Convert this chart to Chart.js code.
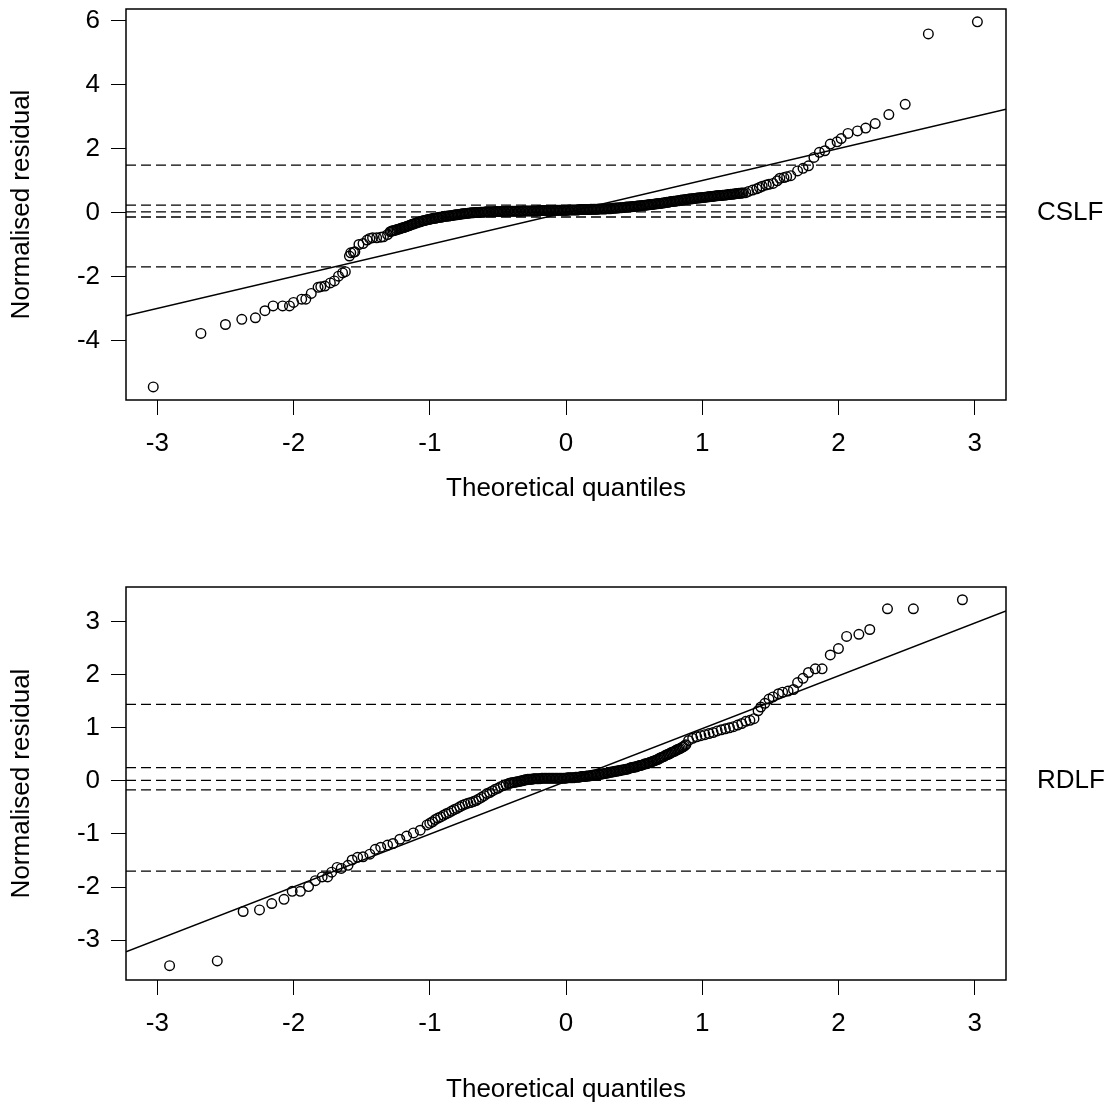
<!DOCTYPE html>
<html>
<head>
<meta charset="utf-8">
<script src="https://cdn.jsdelivr.net/npm/chart.js@4.4.0/dist/chart.umd.min.js"></script>
<style>
  html, body { margin: 0; padding: 0; background: #fff; }
  .panel { position: absolute; left: 0; width: 1119px; }
</style>
</head>
<body>
<div class="panel" style="top:0;height:556px"><canvas id="cslfChart"></canvas></div>
<div class="panel" style="top:556px;height:557px"><canvas id="rdlfChart"></canvas></div>
<script>
// shared x axis (theoretical quantiles)
const xTicks = [-3, -2, -1, 0, 1, 2, 3];
const xRange = [-3.23, 3.23];

// CSLF panel
const cslfYTicks = [-4, -2, 0, 2, 4, 6];
const cslfYRange = [-5.85, 6.37];
const cslfFit = [0.01, 1.0]; // intercept, slope
const cslfCutoffs = [1.49, 0.24, 0.03, -0.13, -1.69];
const cslfX = [
  -3.03, -2.68, -2.50, -2.38, -2.28, -2.21, -2.15, -2.08, -2.03, -2.00,
  -1.94, -1.91, -1.87, -1.82, -1.80, -1.77, -1.73, -1.70, -1.67, -1.64,
  -1.62, -1.59, -1.58, -1.56, -1.55, -1.52, -1.49, -1.46, -1.44, -1.42,
  -1.39, -1.36, -1.34, -1.31, -1.29, -1.28,
  -1.27, -1.26, -1.25, -1.24, -1.23, -1.22, -1.21, -1.20, -1.19, -1.18,
  -1.17, -1.16, -1.15, -1.14, -1.13, -1.12, -1.11, -1.10, -1.09, -1.08,
  -1.07, -1.06, -1.05, -1.04, -1.03, -1.02, -1.01, -1.00, -0.99, -0.98,
  -0.97, -0.96, -0.95, -0.94, -0.93, -0.92, -0.91, -0.90, -0.89, -0.88,
  -0.87, -0.86, -0.85, -0.84, -0.83, -0.82, -0.81, -0.80, -0.79, -0.78,
  -0.77, -0.76, -0.75, -0.74, -0.73,
  -0.72, -0.71, -0.70, -0.69, -0.68, -0.67, -0.66, -0.65, -0.64, -0.63,
  -0.62, -0.61, -0.60, -0.59, -0.58, -0.57, -0.56, -0.55, -0.54, -0.53,
  -0.52, -0.51, -0.50, -0.49, -0.48, -0.47, -0.46, -0.45, -0.44, -0.43,
  -0.42, -0.41, -0.40, -0.39, -0.38, -0.37, -0.36, -0.35, -0.34, -0.33,
  -0.32, -0.31, -0.30, -0.29, -0.28, -0.27, -0.26, -0.25, -0.24, -0.23,
  -0.22, -0.21, -0.20, -0.19, -0.18, -0.17, -0.16, -0.15, -0.14, -0.13,
  -0.12, -0.11, -0.10, -0.09, -0.08, -0.07, -0.06, -0.05, -0.04, -0.03,
  -0.02, -0.01, 0.00, 0.01, 0.02, 0.03, 0.04, 0.05, 0.06, 0.07,
  0.08, 0.09, 0.10, 0.11, 0.12, 0.13, 0.14, 0.15, 0.16, 0.17,
  0.18, 0.19, 0.20, 0.21, 0.22, 0.23, 0.24, 0.25, 0.26, 0.27,
  0.28, 0.29, 0.30, 0.31, 0.32, 0.33, 0.34, 0.35, 0.36, 0.37,
  0.38, 0.39, 0.40, 0.41, 0.42, 0.43, 0.44, 0.45, 0.46, 0.47,
  0.48, 0.49, 0.50, 0.51, 0.52, 0.53, 0.54, 0.55, 0.56, 0.57,
  0.58, 0.59, 0.60, 0.61, 0.62, 0.63, 0.64, 0.65, 0.66, 0.67,
  0.68, 0.69, 0.70, 0.71, 0.72, 0.73, 0.74, 0.75, 0.76, 0.77,
  0.78, 0.79, 0.80, 0.81, 0.82, 0.83, 0.84, 0.85, 0.86, 0.87,
  0.88, 0.89, 0.90,
  0.91, 0.92, 0.93, 0.94, 0.95, 0.96, 0.97, 0.98, 0.99, 1.00,
  1.01, 1.02, 1.03, 1.04, 1.05, 1.06, 1.07, 1.08, 1.09, 1.10,
  1.11, 1.12, 1.13, 1.14, 1.15, 1.16, 1.17, 1.18, 1.19, 1.20,
  1.21, 1.22, 1.23, 1.24, 1.25, 1.26, 1.27, 1.28, 1.29, 1.30,
  1.32, 1.34, 1.37, 1.40, 1.42, 1.44, 1.47, 1.49, 1.52, 1.55,
  1.57, 1.60, 1.62, 1.65, 1.70, 1.74, 1.78, 1.82, 1.86, 1.90,
  1.94, 1.99, 2.02, 2.07, 2.14, 2.20, 2.27, 2.37, 2.49, 2.66,
  3.02
];
const cslfY = [
  -5.44, -3.77, -3.49, -3.33, -3.28, -3.06, -2.91, -2.91, -2.91, -2.80,
  -2.70, -2.70, -2.52, -2.33, -2.31, -2.29, -2.19, -2.13, -1.98, -1.88,
  -1.84, -1.35, -1.25, -1.23, -1.22, -0.99, -0.96, -0.85, -0.80, -0.78,
  -0.78, -0.76, -0.75, -0.68, -0.59, -0.57,
  -0.56, -0.55, -0.54, -0.52, -0.51, -0.50, -0.48, -0.47, -0.46, -0.44,
  -0.43, -0.41, -0.40, -0.38, -0.36, -0.35, -0.33, -0.32, -0.30, -0.29,
  -0.28, -0.26, -0.25, -0.24, -0.23, -0.22, -0.21, -0.20, -0.19, -0.18,
  -0.17, -0.17, -0.16, -0.15, -0.14, -0.14, -0.13, -0.12, -0.11, -0.11,
  -0.10, -0.10, -0.09, -0.08, -0.08, -0.07, -0.06, -0.06, -0.05, -0.05,
  -0.04, -0.03, -0.03, -0.02, -0.02,
  -0.01, -0.01, 0.00, 0.00, 0.00, 0.01, 0.01, 0.01, 0.01, 0.02,
  0.02, 0.02, 0.02, 0.03, 0.03, 0.03, 0.03, 0.03, 0.03, 0.03,
  0.04, 0.04, 0.04, 0.04, 0.04, 0.04, 0.04, 0.04, 0.05, 0.05,
  0.05, 0.05, 0.05, 0.05, 0.05, 0.05, 0.05, 0.05, 0.05, 0.05,
  0.06, 0.06, 0.06, 0.06, 0.06, 0.06, 0.06, 0.06, 0.06, 0.06,
  0.06, 0.06, 0.07, 0.07, 0.07, 0.07, 0.07, 0.07, 0.07, 0.07,
  0.07, 0.07, 0.07, 0.07, 0.08, 0.08, 0.08, 0.08, 0.08, 0.08,
  0.08, 0.08, 0.08, 0.08, 0.09, 0.09, 0.09, 0.09, 0.09, 0.09,
  0.09, 0.09, 0.10, 0.10, 0.10, 0.10, 0.10, 0.10, 0.10, 0.10,
  0.11, 0.11, 0.11, 0.11, 0.11, 0.11, 0.12, 0.12, 0.12, 0.12,
  0.12, 0.12, 0.13, 0.13, 0.13, 0.13, 0.14, 0.14, 0.15, 0.15,
  0.15, 0.16, 0.16, 0.16, 0.17, 0.17, 0.18, 0.18, 0.18, 0.19,
  0.19, 0.20, 0.20, 0.20, 0.21, 0.21, 0.22, 0.22, 0.23, 0.23,
  0.24, 0.24, 0.25, 0.25, 0.26, 0.26, 0.27, 0.27, 0.28, 0.28,
  0.29, 0.29, 0.30, 0.31, 0.31, 0.32, 0.33, 0.33, 0.34, 0.35,
  0.35, 0.36, 0.36, 0.37, 0.38, 0.38, 0.39, 0.40, 0.40, 0.41,
  0.42, 0.42, 0.43,
  0.43, 0.44, 0.44, 0.45, 0.45, 0.46, 0.46, 0.47, 0.47, 0.48,
  0.48, 0.49, 0.49, 0.50, 0.50, 0.51, 0.51, 0.52, 0.52, 0.53,
  0.53, 0.54, 0.54, 0.54, 0.55, 0.55, 0.56, 0.56, 0.57, 0.57,
  0.58, 0.58, 0.59, 0.59, 0.60, 0.60, 0.61, 0.61, 0.62, 0.62,
  0.63, 0.67, 0.71, 0.75, 0.79, 0.83, 0.87, 0.89, 0.92, 1.00,
  1.08, 1.10, 1.13, 1.16, 1.31, 1.39, 1.47, 1.73, 1.89, 1.94,
  2.15, 2.22, 2.32, 2.48, 2.56, 2.65, 2.79, 3.07, 3.39, 5.59,
  5.97
];

// RDLF panel
const rdlfYTicks = [-3, -2, -1, 0, 1, 2, 3];
const rdlfYRange = [-3.75, 3.65];
const rdlfFit = [-0.01, 0.994];
const rdlfCutoffs = [1.44, 0.25, 0.01, -0.17, -1.70];
const rdlfX = [
  -2.91, -2.56, -2.37, -2.25, -2.16, -2.07, -2.01, -1.95, -1.89, -1.84,
  -1.79, -1.75, -1.72, -1.68, -1.65, -1.60, -1.57, -1.53, -1.49, -1.44,
  -1.40, -1.36, -1.31, -1.27, -1.22, -1.17, -1.12, -1.07, -1.02,
  -1.00, -0.98, -0.96, -0.94, -0.92, -0.90, -0.88, -0.86, -0.84, -0.82,
  -0.80, -0.78, -0.76, -0.74, -0.72, -0.70, -0.68, -0.66, -0.64, -0.62,
  -0.60, -0.58, -0.56, -0.54, -0.52, -0.50, -0.48, -0.46, -0.44, -0.42,
  -0.41, -0.40, -0.39, -0.38, -0.37, -0.36, -0.35, -0.34, -0.33, -0.32,
  -0.31, -0.30, -0.29, -0.28, -0.27, -0.26, -0.25, -0.24, -0.23, -0.22,
  -0.21, -0.20, -0.19, -0.18, -0.17, -0.16, -0.15, -0.14, -0.13, -0.12,
  -0.11, -0.10, -0.09, -0.08, -0.07, -0.06, -0.05, -0.04, -0.03, -0.02,
  -0.01, 0.00, 0.01, 0.02, 0.03, 0.04, 0.05, 0.06, 0.07, 0.08,
  0.09, 0.10, 0.11, 0.12, 0.13, 0.14, 0.15, 0.16, 0.17, 0.18,
  0.19, 0.20, 0.21, 0.22, 0.23, 0.24, 0.25, 0.26, 0.27, 0.28,
  0.29, 0.30, 0.31, 0.32, 0.33, 0.34, 0.35, 0.36, 0.37, 0.38,
  0.39, 0.40, 0.41, 0.42, 0.43, 0.44, 0.45, 0.46, 0.47, 0.48,
  0.49, 0.50,
  0.51, 0.52, 0.53, 0.54, 0.55, 0.56, 0.57, 0.58, 0.59, 0.60,
  0.61, 0.62, 0.63, 0.64, 0.65, 0.66, 0.67, 0.68, 0.69, 0.70,
  0.71, 0.72, 0.73, 0.74, 0.75, 0.76, 0.77, 0.78, 0.79, 0.80,
  0.81, 0.82, 0.83, 0.84, 0.85, 0.86, 0.87, 0.88,
  0.90, 0.93, 0.96, 0.99, 1.02, 1.05, 1.08, 1.11, 1.14, 1.17,
  1.20, 1.23, 1.26, 1.29, 1.32, 1.35, 1.38, 1.41, 1.43, 1.46,
  1.49, 1.52, 1.56, 1.59, 1.63, 1.67, 1.70, 1.74, 1.78, 1.83,
  1.88, 1.94, 2.00, 2.06, 2.15, 2.23, 2.36, 2.55, 2.91
];
const rdlfY = [
  -3.48, -3.39, -2.46, -2.43, -2.31, -2.23, -2.08, -2.08, -1.99, -1.88,
  -1.81, -1.81, -1.72, -1.63, -1.65, -1.59, -1.49, -1.44, -1.43, -1.38,
  -1.29, -1.25, -1.21, -1.18, -1.10, -1.04, -0.98, -0.93, -0.83,
  -0.80, -0.77, -0.73, -0.70, -0.68, -0.65, -0.62, -0.60, -0.57, -0.54,
  -0.52, -0.49, -0.46, -0.44, -0.42, -0.41, -0.39, -0.37, -0.34, -0.31,
  -0.28, -0.24, -0.22, -0.19, -0.16, -0.14, -0.11, -0.09, -0.07, -0.05,
  -0.04, -0.04, -0.03, -0.03, -0.02, -0.02, -0.01, -0.01, 0.00, 0.00,
  0.01, 0.02, 0.02, 0.03, 0.03, 0.03, 0.03, 0.04, 0.04, 0.04,
  0.04, 0.04, 0.04, 0.05, 0.05, 0.05, 0.05, 0.05, 0.05, 0.05,
  0.05, 0.05, 0.05, 0.05, 0.05, 0.05, 0.05, 0.05, 0.05, 0.05,
  0.05, 0.05, 0.06, 0.06, 0.06, 0.06, 0.06, 0.06, 0.07, 0.07,
  0.07, 0.07, 0.08, 0.08, 0.08, 0.08, 0.09, 0.09, 0.09, 0.10,
  0.10, 0.11, 0.11, 0.11, 0.12, 0.12, 0.12, 0.13, 0.13, 0.14,
  0.14, 0.15, 0.15, 0.16, 0.16, 0.17, 0.17, 0.18, 0.18, 0.19,
  0.19, 0.20, 0.20, 0.21, 0.21, 0.22, 0.22, 0.23, 0.24, 0.25,
  0.25, 0.26,
  0.26, 0.27, 0.28, 0.29, 0.29, 0.30, 0.31, 0.32, 0.32, 0.33,
  0.34, 0.35, 0.36, 0.37, 0.38, 0.39, 0.40, 0.41, 0.43, 0.44,
  0.45, 0.46, 0.48, 0.49, 0.50, 0.51, 0.53, 0.54, 0.55, 0.56,
  0.58, 0.59, 0.60, 0.61, 0.63, 0.64, 0.66, 0.68,
  0.76, 0.80, 0.83, 0.85, 0.87, 0.89, 0.91, 0.94, 0.96, 0.98,
  1.00, 1.02, 1.05, 1.08, 1.12, 1.14, 1.17, 1.32, 1.39, 1.46,
  1.54, 1.58, 1.64, 1.67, 1.69, 1.72, 1.85, 1.93, 2.04, 2.11,
  2.11, 2.37, 2.49, 2.72, 2.76, 2.85, 3.24, 3.24, 3.41
];

const FONT = "'Liberation Sans', Arial, Helvetica, sans-serif";
Chart.defaults.font.family = FONT;
Chart.defaults.color = "#000";

// box round the plot region + panel name at the right
const frame = {
  id: "frame",
  afterDraw(chart, args, opts) {
    const { ctx, chartArea: a, scales } = chart;
    ctx.save();
    ctx.strokeStyle = "#000";
    ctx.lineWidth = 1.5;
    ctx.strokeRect(a.left, a.top, a.right - a.left, a.bottom - a.top);
    ctx.font = "26px " + FONT;
    ctx.fillStyle = "#000";
    ctx.textAlign = "left";
    ctx.textBaseline = "middle";
    ctx.fillText(opts.text, a.right + 31, scales.y.getPixelForValue(0));
    ctx.restore();
  },
};

function qqChart(id, p) {
  const points = p.xs.map((x, i) => ({ x: x, y: p.ys[i] }));
  const datasets = [
    {
      data: points,
      pointStyle: "circle",
      pointRadius: 4.8,
      pointBorderWidth: 1.4,
      pointBorderColor: "#000",
      pointBackgroundColor: "rgba(0,0,0,0)",
    },
    {
      data: xRange.map((x) => ({ x: x, y: p.fit[0] + p.fit[1] * x })),
      showLine: true,
      borderColor: "#000",
      borderWidth: 1.5,
      pointRadius: 0,
    },
  ];
  p.cutoffs.forEach((c) => {
    datasets.push({
      data: xRange.map((x) => ({ x: x, y: c })),
      showLine: true,
      borderColor: "#000",
      borderWidth: 1.3,
      borderDash: [10, 5],
      pointRadius: 0,
    });
  });

  const H = p.height;
  return new Chart(document.getElementById(id), {
    type: "scatter",
    data: { datasets: datasets },
    plugins: [frame],
    options: {
      responsive: true,
      maintainAspectRatio: false,
      animation: false,
      events: [],
      layout: { padding: { top: p.plotTop, right: 113, left: 0, bottom: 0 } },
      plugins: {
        legend: { display: false },
        tooltip: { enabled: false },
        frame: { text: p.name },
      },
      scales: {
        x: {
          type: "linear",
          min: xRange[0],
          max: xRange[1],
          afterBuildTicks: (s) => { s.ticks = xTicks.map((v) => ({ value: v })); },
          afterFit: (s) => {
            s.height = H - p.plotBottom;
            s.paddingLeft = 0;
            s.paddingRight = 0;
          },
          border: { display: false },
          grid: { drawOnChartArea: false, drawTicks: true, tickLength: 15, color: "#000", lineWidth: 1 },
          ticks: { padding: 13, font: { size: 26 }, maxRotation: 0 },
          title: {
            display: true,
            text: "Theoretical quantiles",
            font: { size: 26 },
            padding: { top: 0, bottom: p.titleGap },
          },
        },
        y: {
          type: "linear",
          min: p.yRange[0],
          max: p.yRange[1],
          afterBuildTicks: (s) => { s.ticks = p.yTicks.map((v) => ({ value: v })); },
          afterFit: (s) => {
            s.width = 126;
            s.paddingTop = 0;
            s.paddingBottom = 0;
          },
          border: { display: false },
          grid: { drawOnChartArea: false, drawTicks: true, tickLength: 15, color: "#000", lineWidth: 1 },
          ticks: { padding: 11, font: { size: 26 } },
          title: {
            display: true,
            text: "Normalised residual",
            font: { size: 26 },
            padding: { top: 6, bottom: 0 },
          },
        },
      },
    },
  });
}

qqChart("cslfChart", {
  name: "CSLF", xs: cslfX, ys: cslfY, fit: cslfFit, cutoffs: cslfCutoffs,
  yRange: cslfYRange, yTicks: cslfYTicks,
  height: 556, plotTop: 9, plotBottom: 400, titleGap: 52,
});

qqChart("rdlfChart", {
  name: "RDLF", xs: rdlfX, ys: rdlfY, fit: rdlfFit, cutoffs: rdlfCutoffs,
  yRange: rdlfYRange, yTicks: rdlfYTicks,
  height: 557, plotTop: 31, plotBottom: 424, titleGap: 8,
});
</script>
</body>
</html>
